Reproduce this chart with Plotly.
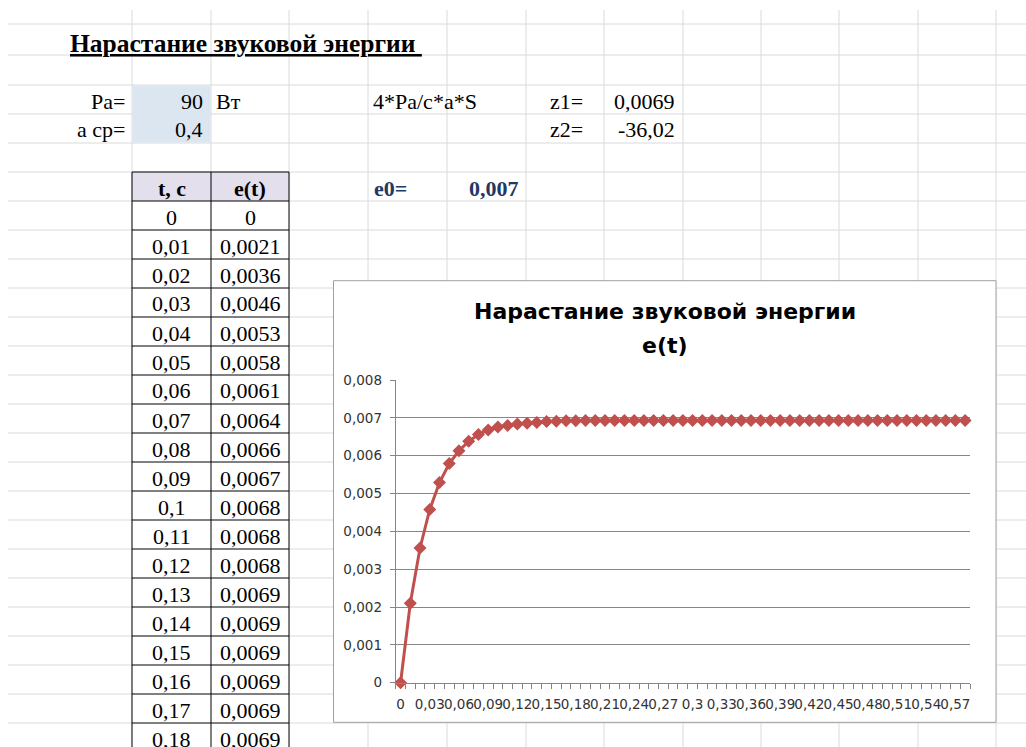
import plotly.graph_objects as go

# ---------------- data ----------------
t_values = [0, 0.01, 0.02, 0.03, 0.04, 0.05, 0.06, 0.07, 0.08, 0.09,
            0.1, 0.11, 0.12, 0.13, 0.14, 0.15, 0.16, 0.17, 0.18, 0.19,
            0.2, 0.21, 0.22, 0.23, 0.24, 0.25, 0.26, 0.27, 0.28, 0.29,
            0.3, 0.31, 0.32, 0.33, 0.34, 0.35, 0.36, 0.37, 0.38, 0.39,
            0.4, 0.41, 0.42, 0.43, 0.44, 0.45, 0.46, 0.47, 0.48, 0.49,
            0.5, 0.51, 0.52, 0.53, 0.54, 0.55, 0.56, 0.57, 0.58]
e_values = [0, 0.00210, 0.00356, 0.00458, 0.00529, 0.00579, 0.00613, 0.00638, 0.00656, 0.00668,
            0.00676, 0.00680, 0.00684, 0.00686, 0.00688, 0.00690, 0.00691, 0.00692, 0.00692, 0.00693,
            0.00693, 0.00693, 0.00693, 0.00693, 0.00693, 0.00693, 0.00693, 0.00693, 0.00693, 0.00693,
            0.00693, 0.00693, 0.00693, 0.00693, 0.00693, 0.00693, 0.00693, 0.00693, 0.00693, 0.00693,
            0.00693, 0.00693, 0.00693, 0.00693, 0.00693, 0.00693, 0.00693, 0.00693, 0.00693, 0.00693,
            0.00693, 0.00693, 0.00693, 0.00693, 0.00693, 0.00693, 0.00693, 0.00693, 0.00693]
y_ticks = [0, 0.001, 0.002, 0.003, 0.004, 0.005, 0.006, 0.007, 0.008]
table_rows = 19

sheet_title = "Нарастание звуковой энергии "
chart_title_1 = "Нарастание звуковой энергии"
chart_title_2 = "e(t)"
param_labels = ["Pa=", "a cp="]
param_values = ["90", "0,4"]
param_unit = "Вт"
formula_text = "4*Pa/c*a*S"
z_labels = ["z1=", "z2="]
z_values = ["0,0069", "-36,02"]
e0_label = "e0="
e0_value = "0,007"
table_headers = ["t, c", "e(t)"]

# ---------------- helpers ----------------
W, H = 1026, 747
def px(x): return x / W
def py(y): return 1 - y / H

def fmt_t(v):
    return f"{v:g}".replace(".", ",")

def fmt_e(v):
    return "0" if v == 0 else f"{v:.4f}".replace(".", ",")

SERIF = "Liberation Serif"
SANS = "DejaVu Sans"
GRID = "#dadada"
AX = "#868686"

shapes = []
annotations = []

# sheet grid
col_x = [132, 211, 289, 368, 447, 526, 604, 683, 761, 839, 918, 996]
row_y = [24, 55, 85, 114, 143] + [172 + 29 * k for k in range(20)]
for x in col_x:
    shapes.append(dict(type="line", xref="paper", yref="paper", x0=px(x), x1=px(x),
                       y0=py(10), y1=py(747), line=dict(color=GRID, width=1), layer="below"))
for y in row_y:
    shapes.append(dict(type="line", xref="paper", yref="paper", x0=px(8), x1=px(1026),
                       y0=py(y), y1=py(y), line=dict(color=GRID, width=1), layer="below"))

# input cell fills
shapes.append(dict(type="rect", xref="paper", yref="paper", x0=px(132.5), x1=px(210.5),
                   y0=py(85.5), y1=py(142.5), fillcolor="#dce6f1", line=dict(width=0), layer="below"))
# table header fill
shapes.append(dict(type="rect", xref="paper", yref="paper", x0=px(132), x1=px(289),
                   y0=py(172), y1=py(201), fillcolor="#e4dfec", line=dict(width=0), layer="below"))
# table data fill (white, hides sheet grid)
shapes.append(dict(type="rect", xref="paper", yref="paper", x0=px(132), x1=px(289),
                   y0=py(201), y1=py(747), fillcolor="white", line=dict(width=0), layer="below"))
# table borders
for x in [132, 211, 289]:
    shapes.append(dict(type="line", xref="paper", yref="paper", x0=px(x), x1=px(x),
                       y0=py(172), y1=py(747), line=dict(color="black", width=1), layer="below"))
for k in range(table_rows + 1):
    y = 172 + 29 * k
    shapes.append(dict(type="line", xref="paper", yref="paper", x0=px(132), x1=px(289),
                       y0=py(y), y1=py(y), line=dict(color="black", width=1), layer="below"))

# chart area box
shapes.append(dict(type="rect", xref="paper", yref="paper", x0=px(333.5), x1=px(996),
                   y0=py(722.3), y1=py(280.7), fillcolor="white",
                   line=dict(color="#a0a0a0", width=1), layer="below"))

def ann(text, x, y, xanchor, size=22, color="black", bold=False, family=SERIF, under=False):
    f = dict(family=family, size=size, color=color)
    if bold:
        f["weight"] = "bold"
    if under:
        f["lineposition"] = "under"
    annotations.append(dict(text=text, x=px(x), y=py(y), xref="paper", yref="paper",
                            xanchor=xanchor, yanchor="middle", showarrow=False, font=f))

# sheet texts
ann(sheet_title, 68, 43, "left", size=25.5, bold=True, under=True)
for i in range(2):
    yc = 101 + 29 * i
    ann(param_labels[i], 127, yc, "right")
    ann(param_values[i], 205, yc, "right")
    ann(z_labels[i], 548, yc, "left")
    ann(z_values[i], 677, yc, "right")
ann(param_unit, 214, 101, "left")
ann(formula_text, 371, 101, "left")
ann(e0_label, 372, 188, "left", bold=True, color="#1f3864")
ann(e0_value, 521, 188, "right", bold=True, color="#1f3864")

# table
ann(table_headers[0], 171.5, 188, "center", bold=True)
ann(table_headers[1], 250, 188, "center", bold=True)
for k in range(table_rows):
    yc = 217 + 29 * k
    ann(fmt_t(t_values[k]), 171.5, yc, "center")
    ann(fmt_e(e_values[k]), 250, yc, "center")

# chart titles
ann(chart_title_1, 665, 311, "center", size=22, bold=True, family=SANS)
ann(chart_title_2, 665, 345, "center", size=22, bold=True, family=SANS)

fig = go.Figure()
fig.add_trace(go.Scatter(
    x=t_values, y=e_values, mode="lines+markers",
    line=dict(color="#c0504d", width=3),
    marker=dict(symbol="diamond", size=10, color="#c0504d"),
    cliponaxis=False, showlegend=False, hoverinfo="x+y"))

x_tickvals = t_values[::3]
fig.update_layout(
    width=W, height=H,
    margin=dict(l=0, r=0, t=0, b=0, autoexpand=False),
    paper_bgcolor="white", plot_bgcolor="rgba(0,0,0,0)",
    shapes=shapes, annotations=annotations, showlegend=False,
    xaxis=dict(domain=[px(395.7), px(970)], range=[-0.005, 0.585], automargin=False,
               tickmode="array", tickvals=x_tickvals, ticktext=[fmt_t(v) for v in x_tickvals],
               tickangle=0, ticks="outside", ticklen=5, tickcolor="rgba(0,0,0,0)",
               ticklabelstandoff=4,
               minor=dict(tick0=-0.005, dtick=0.01, ticks="outside", ticklen=5,
                          tickcolor=AX, showgrid=False),
               showline=True, linecolor=AX, linewidth=1, showgrid=False, zeroline=False,
               tickfont=dict(family=SANS, size=13.5, color="#333333"), fixedrange=True),
    yaxis=dict(domain=[py(682.7), py(380)], range=[0, 0.008], automargin=False,
               tickmode="array", tickvals=y_ticks, ticktext=[fmt_t(v) for v in y_ticks],
               ticks="outside", ticklen=5, tickcolor=AX, ticklabelstandoff=5,
               showline=True, linecolor=AX, linewidth=1,
               showgrid=True, gridcolor=AX, gridwidth=1, zeroline=False,
               tickfont=dict(family=SANS, size=13.5, color="#333333"), fixedrange=True),
)

fig.write_html("out.html", post_script="document.body.style.margin='0';",
               config={"displayModeBar": False})
